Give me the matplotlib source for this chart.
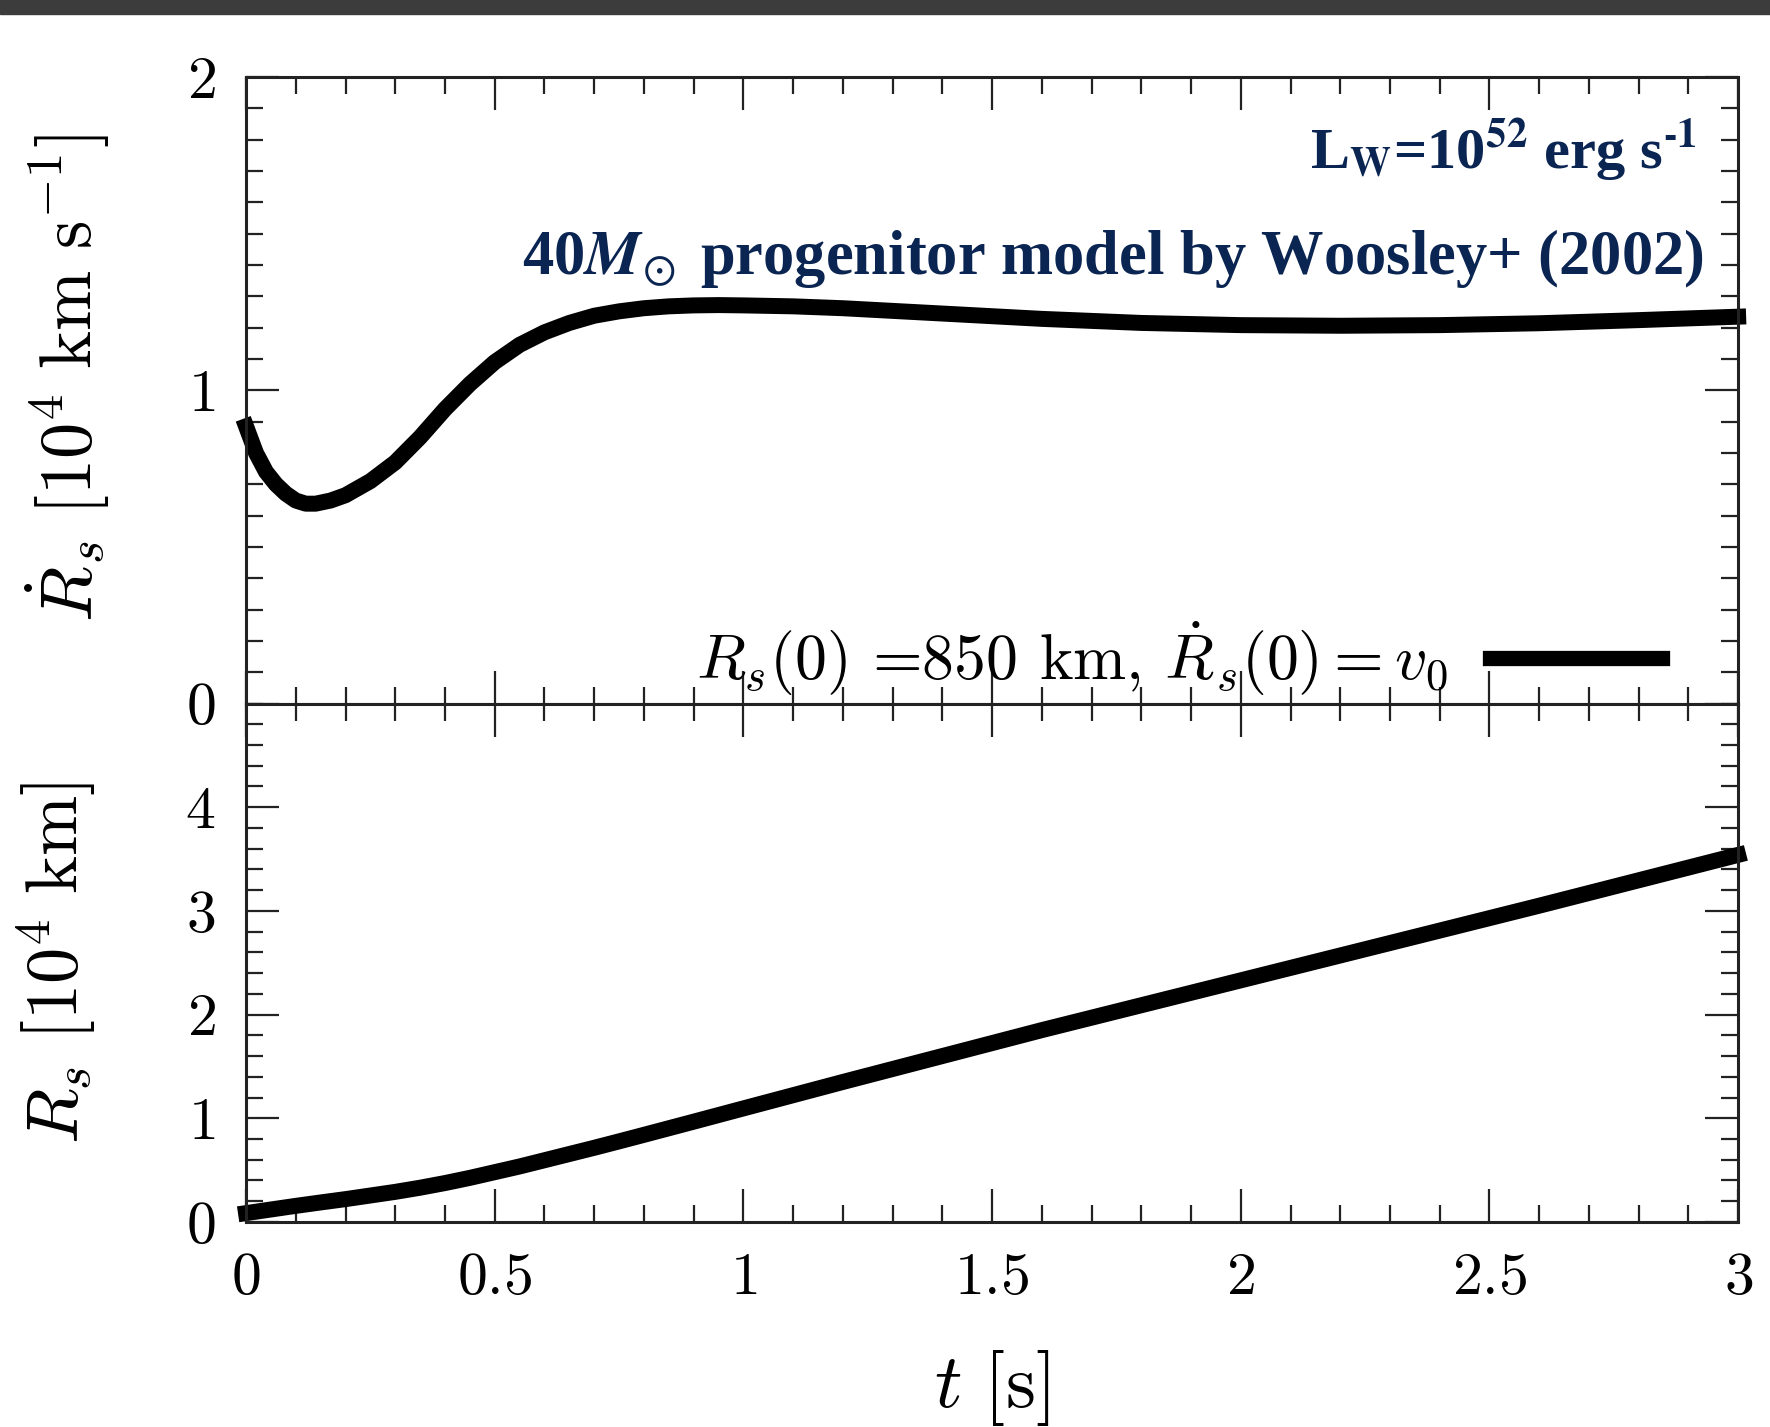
import matplotlib
matplotlib.use("Agg")
import matplotlib.pyplot as plt
from matplotlib.ticker import MultipleLocator, FuncFormatter
from matplotlib.patches import Rectangle

plt.rcParams['mathtext.fontset'] = 'cm'
plt.rcParams['font.family'] = ['serif']
plt.rcParams['font.serif'] = ['cmr10', 'DejaVu Serif']
plt.rcParams['axes.formatter.use_mathtext'] = True

# ---- data ----
t_vel = [0, 0.02, 0.04, 0.06, 0.08, 0.10, 0.12, 0.14, 0.17, 0.2, 0.25, 0.3,
         0.35, 0.4, 0.45, 0.5, 0.55, 0.6, 0.65, 0.7, 0.75, 0.8, 0.85, 0.9,
         0.95, 1.0, 1.1, 1.2, 1.4, 1.6, 1.8, 2.0, 2.2, 2.4, 2.6, 2.8, 3.0]
rdot = [0.885, 0.80, 0.74, 0.70, 0.67, 0.648, 0.638, 0.638, 0.648, 0.665,
        0.71, 0.77, 0.85, 0.94, 1.02, 1.09, 1.145, 1.185, 1.215, 1.238, 1.252,
        1.262, 1.268, 1.271, 1.272, 1.271, 1.268, 1.262, 1.245, 1.228, 1.215,
        1.208, 1.206, 1.208, 1.214, 1.224, 1.235]

t_rad = [0, 0.05, 0.1, 0.15, 0.2, 0.25, 0.3, 0.35, 0.4, 0.45, 0.5, 0.55, 0.6,
         0.65, 0.7, 0.75, 0.8, 0.9, 1.0, 1.2, 1.4, 1.6, 1.8, 2.0, 2.2, 2.4,
         2.6, 2.8, 3.0]
rs = [0.085, 0.12, 0.155, 0.188, 0.22, 0.255, 0.29, 0.33, 0.375, 0.425, 0.48,
      0.535, 0.595, 0.655, 0.715, 0.777, 0.84, 0.967, 1.095, 1.35, 1.60, 1.85,
      2.09, 2.33, 2.57, 2.81, 3.05, 3.295, 3.54]

x_ticks = [0, 0.5, 1, 1.5, 2, 2.5, 3]
top_yticks = [0, 1, 2]
bot_yticks = [0, 1, 2, 3, 4]

legend_label = r'$R_s(0)$ =850 km, $\dot{R}_s(0) = v_0$'
note1 = 'L$_\\mathbf{W}$=10$^\\mathbf{52}$ erg s$^{\\mathbf{\u2010}\\mathbf{1}}$'
note2 = r'40$\mathbfit{M}_{\!\odot}$ progenitor model by Woosley+ (2002)'
navy = '#0b2552'

fig = plt.figure(figsize=(17.7, 14.27), dpi=100)
# dark strip at top of screenshot
fig.patches.append(Rectangle((0, 1 - 14 / 1427), 1, 14 / 1427, transform=fig.transFigure,
                             color='#3c3c3c', zorder=0))

ax1 = fig.add_axes([0.139, 0.507, 0.843, 0.439])
ax2 = fig.add_axes([0.139, 0.1437, 0.843, 0.3633], sharex=ax1)

fmt = FuncFormatter(lambda v, p: r'$%g$' % v)

for ax in (ax1, ax2):
    ax.set_xlim(0, 3)
    ax.xaxis.set_major_locator(MultipleLocator(0.5))
    ax.xaxis.set_minor_locator(MultipleLocator(0.1))
    ax.tick_params(which='both', direction='in', top=True, right=True,
                   color='#222222', labelsize=43)
    ax.tick_params(which='major', length=24, width=1.6)
    ax.tick_params(which='minor', length=12, width=1.6)
    ax.tick_params(axis='y', pad=22)
    ax.tick_params(axis='x', pad=22)
    for s in ax.spines.values():
        s.set_linewidth(2.2)
        s.set_color('#222222')

# top panel
ax1.plot(t_vel, rdot, color='black', lw=11.5, clip_on=False, label=legend_label)
ax1.set_ylim(0, 2)
ax1.set_yticks(top_yticks)
ax1.yaxis.set_minor_locator(MultipleLocator(0.1))
ax1.yaxis.set_major_formatter(fmt)
ax1.tick_params(axis='x', labelbottom=False)
ax1.set_ylabel(r'$\dot{R}_s\ [10^4\ \mathrm{km\ s^{-1}}]$', fontsize=52)
ax1.yaxis.set_label_coords(-0.090, 0.52)

leg = ax1.legend(loc='lower right', bbox_to_anchor=(0.949, 0.008), frameon=False,
                 markerfirst=False, fontsize=46, handlelength=2.7, handletextpad=0.65,
                 borderpad=0, borderaxespad=0)
for h in leg.get_lines():
    h.set_linewidth(11)

ax1.text(0.9725, 0.853, note1, transform=ax1.transAxes, ha='right', va='baseline',
         fontsize=42, color=navy, family='Liberation Serif', fontweight='bold',
         math_fontfamily='stix')
ax1.text(0.977, 0.685, note2, transform=ax1.transAxes, ha='right', va='baseline',
         fontsize=45, color=navy, family='Liberation Serif', fontweight='bold',
         math_fontfamily='stix')

# bottom panel
ax2.plot(t_rad, rs, color='black', lw=11.5, clip_on=False)
ax2.set_ylim(0, 5)
ax2.set_yticks(bot_yticks)
ax2.yaxis.set_minor_locator(MultipleLocator(0.2))
ax2.yaxis.set_major_formatter(fmt)
ax2.set_xticks(x_ticks)
ax2.xaxis.set_major_formatter(fmt)
ax2.set_ylabel(r'$R_s\ [10^4\ \mathrm{km}]$', fontsize=52)
ax2.yaxis.set_label_coords(-0.0995, 0.5)
ax2.set_xlabel(r'$t\ [\mathrm{s}]$', fontsize=55, labelpad=30)

fig.savefig('out.png', dpi=100)
